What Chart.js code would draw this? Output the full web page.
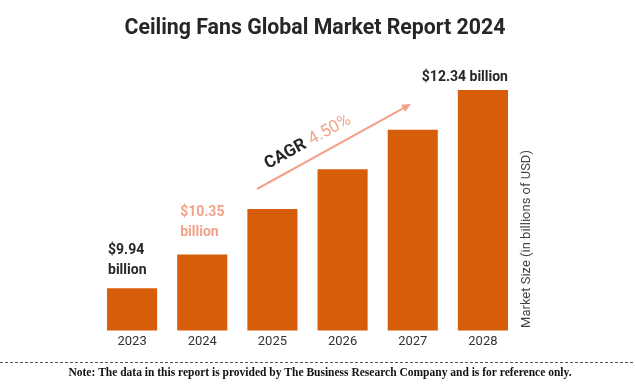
<!DOCTYPE html>
<html><head><meta charset="utf-8">
<script src="https://cdn.jsdelivr.net/npm/chart.js@4.4.0/dist/chart.umd.min.js"></script>
<style>html,body{margin:0;padding:0;background:#fff;}#wrap{width:635px;height:384px;position:relative;}</style>
</head><body><div id="wrap"><canvas id="c" width="635" height="384"></canvas></div>
<script>
const categories = ["2023","2024","2025","2026","2027","2028"];
const marketSize = [9.94, 10.35, 10.90, 11.38, 11.86, 12.34];
const labelFirst = ["$9.94", "billion"];
const labelSecond = ["$10.35", "billion"];
const labelLast = "$12.34 billion";
const cagrText = ["CAGR", "4.50%"];
const titleText = "Ceiling Fans Global Market Report 2024";
const axisTitle = "Market Size (in billions of USD)";
const noteText = "Note: The data in this report is provided by The Business Research Company and is for reference only.";

const BAR = "#d65e0a", SALMON = "#f3a287", DARK = "#262626";

const deco = {
  id: "deco",
  afterDatasetsDraw(chart) {
    const ctx = chart.ctx;
    const bars = chart.getDatasetMeta(0).data;
    ctx.save();
    // title
    ctx.fillStyle = DARK;
    ctx.font = "bold 21.3px Roboto";
    ctx.textAlign = "center"; ctx.textBaseline = "middle";
    ctx.fillText(titleText, 315, 29);
    // value labels
    ctx.font = "bold 14px Roboto";
    ctx.textAlign = "left";
    const b0 = bars[0], b1 = bars[1], b5 = bars[5];
    const w0 = b0.width;
    ctx.fillStyle = DARK;
    ctx.fillText(labelFirst[0], b0.x - w0/2 + 1, b0.y - 38);
    ctx.fillText(labelFirst[1], b0.x - w0/2 + 1, b0.y - 18);
    ctx.fillStyle = SALMON;
    ctx.fillText(labelSecond[0], b1.x - w0/2 + 3, b1.y - 42);
    ctx.fillText(labelSecond[1], b1.x - w0/2 + 3, b1.y - 22);
    ctx.fillStyle = DARK;
    ctx.textAlign = "right";
    ctx.fillText(labelLast, b5.x + b5.width/2, b5.y - 13);
    // CAGR arrow
    const x1 = 257, y1 = 189, x2 = 411, y2 = 104;
    const ang = Math.atan2(y2 - y1, x2 - x1);
    ctx.strokeStyle = SALMON; ctx.fillStyle = SALMON; ctx.lineWidth = 2;
    ctx.beginPath(); ctx.moveTo(x1, y1); ctx.lineTo(x2 - 5*Math.cos(ang), y2 - 5*Math.sin(ang)); ctx.stroke();
    ctx.beginPath();
    ctx.moveTo(x2, y2);
    ctx.lineTo(x2 - 9*Math.cos(ang) + 4*Math.sin(ang), y2 - 9*Math.sin(ang) - 4*Math.cos(ang));
    ctx.lineTo(x2 - 9*Math.cos(ang) - 4*Math.sin(ang), y2 - 9*Math.sin(ang) + 4*Math.cos(ang));
    ctx.closePath(); ctx.fill();
    // CAGR text
    ctx.translate(268, 169);
    ctx.rotate(ang);
    ctx.textAlign = "left"; ctx.textBaseline = "alphabetic";
    ctx.font = "bold 17px Roboto"; ctx.fillStyle = DARK;
    ctx.fillText(cagrText[0], 0, 0);
    const cw = ctx.measureText(cagrText[0] + " ").width;
    ctx.font = "17px Roboto"; ctx.fillStyle = SALMON;
    ctx.fillText(cagrText[1], cw + 1, 0);
    ctx.restore();
    // axis title
    ctx.save();
    ctx.translate(527, 239);
    ctx.rotate(-Math.PI/2);
    ctx.font = "13px Roboto"; ctx.fillStyle = "#444";
    ctx.textAlign = "center"; ctx.textBaseline = "middle";
    ctx.fillText(axisTitle, 0, 0);
    ctx.restore();
    // dashed line and note
    ctx.save();
    ctx.strokeStyle = "#555"; ctx.lineWidth = 1; ctx.setLineDash([3, 2]);
    ctx.beginPath(); ctx.moveTo(0, 362.5); ctx.lineTo(635, 362.5); ctx.stroke();
    ctx.font = "bold 11.5px 'Liberation Serif'"; ctx.fillStyle = "#111";
    ctx.textAlign = "center"; ctx.textBaseline = "middle";
    ctx.fillText(noteText, 320, 373);
    ctx.restore();
  }
};

new Chart(document.getElementById("c"), {
  type: "bar",
  data: { labels: categories, datasets: [{ data: marketSize, backgroundColor: BAR, barPercentage: 0.714, categoryPercentage: 1.0 }] },
  options: {
    responsive: false, animation: false,
    layout: { padding: { left: 97, right: 117, top: 90, bottom: 38 } },
    plugins: { legend: { display: false }, tooltip: { enabled: false }, title: { display: false } },
    scales: {
      x: { grid: { display: false }, border: { display: false },
           ticks: { color: "#333", font: { family: "Roboto", size: 13 }, padding: -4 } },
      y: { display: false, min: 9.43, max: 12.34 }
    }
  },
  plugins: [deco]
});
</script></body></html>
